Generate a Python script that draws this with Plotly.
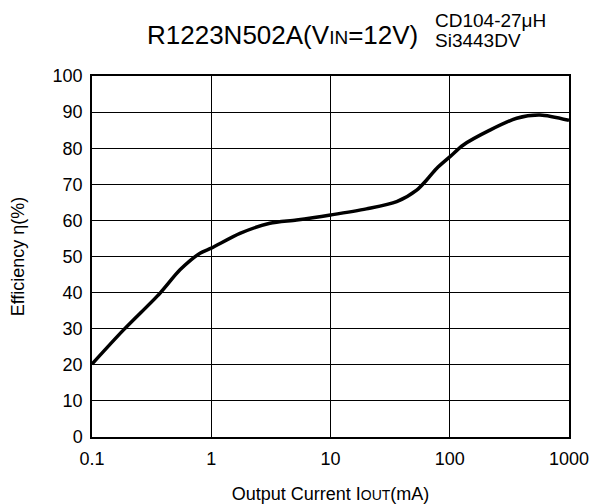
import plotly.graph_objects as go

# Efficiency vs output current (log x axis)
iout_ma = [0.1, 0.183, 0.371, 0.547, 0.805, 1.0, 1.74, 3.1, 5.2, 10, 20, 35.9, 52.8, 64, 77.6, 100, 130, 217, 364, 571, 1000]
efficiency = [20.2, 29.6, 39.8, 46.3, 50.9, 52.3, 56.4, 59.2, 60.1, 61.5, 63.2, 65.2, 68.4, 71.2, 74.4, 77.6, 80.9, 85.0, 88.3, 89.2, 87.7]

x_ticks = [0.1, 1, 10, 100, 1000]
x_tick_text = ["0.1", "1", "10", "100", "1000"]
y_ticks = list(range(0, 101, 10))

FONT = "Liberation Sans, Arial, Helvetica, sans-serif"

fig = go.Figure()
fig.add_trace(go.Scatter(
    x=iout_ma, y=efficiency, mode="lines",
    line=dict(color="black", width=3.5, shape="spline", smoothing=0.8),
    hoverinfo="skip", showlegend=False,
))

fig.update_layout(
    width=594, height=504,
    margin=dict(l=92, r=25, t=76, b=67),
    paper_bgcolor="white", plot_bgcolor="white",
    font=dict(family=FONT, color="black", size=18),
    xaxis=dict(
        type="log", range=[-1, 3], automargin=False,
        tickvals=x_ticks, ticktext=x_tick_text,
        showgrid=True, gridcolor="black", gridwidth=1.3,
        showline=True, linecolor="black", linewidth=1.5, mirror=True,
        ticks="", tickfont=dict(size=18), zeroline=False, ticklabelstandoff=5,
        title=dict(text="Output Current I<span style='font-size:14px'>OUT</span>(mA)",
                   font=dict(size=18), standoff=23),
    ),
    yaxis=dict(
        range=[0, 100], tickvals=y_ticks, automargin=False,
        showgrid=True, gridcolor="black", gridwidth=1.3,
        showline=True, linecolor="black", linewidth=1.5, mirror=True,
        ticks="", tickfont=dict(size=18), zeroline=False, ticklabelstandoff=4,
        title=dict(text="Efficiency η(%)", font=dict(size=18), standoff=23),
    ),
)

fig.add_annotation(
    text="R1223N502A(V<span style='font-size:19px'>IN</span>=12V)",
    xref="paper", yref="paper", x=0.111, y=1.0, yshift=41,
    xanchor="left", yanchor="middle", showarrow=False,
    font=dict(size=26, family=FONT),
)
# Component notes, two stacked lines
for line, shift in (("CD104-27μH", 56), ("Si3443DV", 36)):
    fig.add_annotation(
        text=line,
        xref="paper", yref="paper", x=0.715, y=1.0, yshift=shift,
        xanchor="left", yanchor="middle", align="left", showarrow=False,
        font=dict(size=19, family=FONT),
    )

fig.write_html("out.html")
